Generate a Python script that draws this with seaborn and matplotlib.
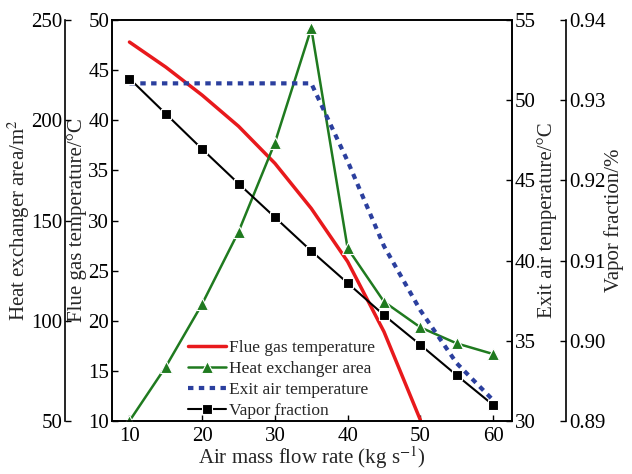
import matplotlib
matplotlib.use("Agg")
import matplotlib.pyplot as plt
import seaborn as sns
import pandas as pd

# values
air_flow = [10, 15, 20, 25, 30, 35, 40, 45, 50, 55, 60]
flue_flow = [10, 15, 20, 25, 30, 35, 40, 45, 50]
flue_gas_temp = [47.8, 45.3, 42.5, 39.4, 35.7, 31.2, 25.9, 18.9, 10.1]
hx_area = [50, 77.1, 108.4, 144.4, 188.8, 245.9, 136.1, 109.5, 96.7, 88.7, 83.4]
exit_air_temp = [51.05, 51.05, 51.05, 51.05, 51.05, 51.05, 46.2, 40.9, 36.9, 33.6, 31.3]
vapor_fraction = [0.9327, 0.9283, 0.9239, 0.9196, 0.9154, 0.9112,
                  0.9072, 0.9032, 0.8995, 0.8957, 0.8920]

x_ticks = [10, 20, 30, 40, 50, 60]
flue_ticks = [10, 15, 20, 25, 30, 35, 40, 45, 50]
area_ticks = [50, 100, 150, 200, 250]
exit_ticks = [30, 35, 40, 45, 50, 55]
vapor_ticks = [0.89, 0.90, 0.91, 0.92, 0.93, 0.94]

sns.set_style("ticks")
plt.rcParams["font.family"] = ["Liberation Serif", "DejaVu Serif"]
plt.rcParams["mathtext.fontset"] = "stix"
plt.rcParams["font.size"] = 15

df = pd.DataFrame({"x": air_flow, "area": hx_area, "exit": exit_air_temp,
                   "vapor": vapor_fraction})
df_flue = pd.DataFrame({"x": flue_flow, "flue": flue_gas_temp})

fig = plt.figure(figsize=(6.32, 4.74), dpi=100)
ax = fig.add_axes([112 / 632, 1 - 421 / 474, 400 / 632, 401 / 474])
ax_area = ax.twinx()
ax_exit = ax.twinx()
ax_vap = ax.twinx()

sns.lineplot(data=df_flue, x="x", y="flue", ax=ax, color="#e8191c", lw=2.5,
             label="Flue gas temperature", legend=False)
sns.lineplot(data=df, x="x", y="area", ax=ax_area, color="#1f7a1f", lw=1.8,
             marker="^", markersize=9, markeredgecolor="white",
             markeredgewidth=0.8, label="Heat exchanger area", legend=False)
sns.lineplot(data=df, x="x", y="exit", ax=ax_exit, color="#2b3f9e", lw=3,
             linestyle=(0, (1.3, 1.3)), label="Exit air temperature",
             legend=False)
sns.lineplot(data=df, x="x", y="vapor", ax=ax_vap, color="black", lw=1.5,
             marker="s", markersize=7.5, markeredgecolor="white",
             markeredgewidth=0.8, label="Vapor fraction", legend=False)

ax.set_xlim(7.6, 62.6)
ax.set_ylim(10, 50)
ax_area.set_ylim(50, 250)
ax_exit.set_ylim(30, 55)
ax_vap.set_ylim(0.89, 0.94)

ax.set_xticks(x_ticks)
ax.set_yticks(flue_ticks)
ax_area.set_yticks(area_ticks)
ax_exit.set_yticks(exit_ticks)
ax_vap.set_yticks(vapor_ticks)
ax_vap.set_yticklabels([f"{v:.2f}" for v in vapor_ticks])

# leftmost axis for the area
ax_area.yaxis.set_ticks_position("left")
ax_area.yaxis.set_label_position("left")
ax_area.spines["left"].set_position(("axes", -47 / 400))
ax_area.spines["left"].set_visible(True)
for s in ["right", "top", "bottom"]:
    ax_area.spines[s].set_visible(False)

ax_vap.spines["right"].set_position(("axes", 1 + 54 / 400))
for s in ["left", "top", "bottom"]:
    ax_vap.spines[s].set_visible(False)

for a in [ax, ax_area, ax_exit, ax_vap]:
    a.tick_params(direction="in", length=4, width=1, pad=2, labelsize=15,
                  colors="black")
    for sp in a.spines.values():
        sp.set_linewidth(1.2)
        sp.set_color("black")
ax.tick_params(axis="x", pad=4)

ax.set_xlabel("Air mass flow rate (kg s$^{-1}$)", fontsize=15, labelpad=-1)
ax.set_ylabel("Flue gas temperature/°C", fontsize=15, labelpad=1)
ax_area.set_ylabel("Heat exchanger area/m$^2$", fontsize=15, labelpad=-1)
ax_exit.set_ylabel("Exit air temperature/°C", fontsize=15, labelpad=1)
ax_vap.set_ylabel("Vapor fraction/%", fontsize=15, labelpad=-1)

handles = []
labels = []
for a in [ax, ax_area, ax_exit, ax_vap]:
    h, l = a.get_legend_handles_labels()
    handles += h
    labels += l
ax_vap.legend(handles, labels, loc="lower left", bbox_to_anchor=(0.15, -0.035),
              frameon=False, fontsize=12.5, handlelength=2.2, labelspacing=0.28,
              handletextpad=0.2)

fig.savefig("out.png", dpi=100)
